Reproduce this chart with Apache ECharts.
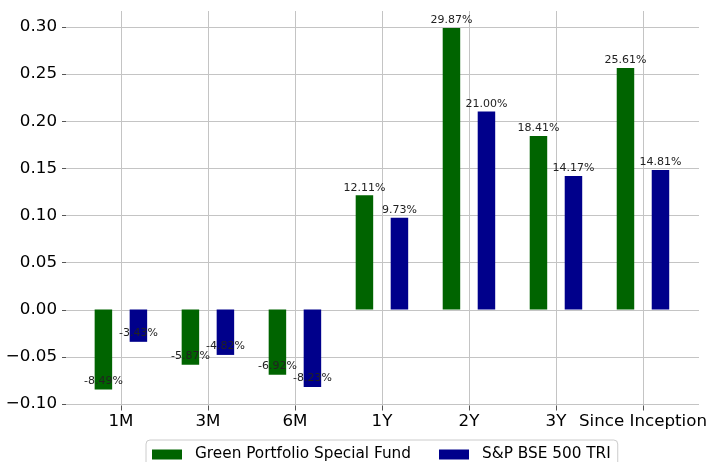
<!DOCTYPE html>
<html>
<head>
<meta charset="utf-8">
<script src="https://cdn.jsdelivr.net/npm/echarts@6/dist/echarts.min.js"></script>
<style>html,body{margin:0;padding:0;background:#fff}#c{width:710px;height:462px}</style>
</head>
<body>
<div id="c"></div>
<script>
const categories = ['1M', '3M', '6M', '1Y', '2Y', '3Y', 'Since Inception'];
const fundValues = [-0.0849, -0.0587, -0.0692, 0.1211, 0.2987, 0.1841, 0.2561];
const benchValues = [-0.0343, -0.0482, -0.0823, 0.0973, 0.2100, 0.1417, 0.1481];
const seriesNames = ['Green Portfolio Special Fund', 'S&P BSE 500 TRI'];
const seriesColors = ['#006400', '#00008b'];

const FONT = 'DejaVu Sans';
const chart = echarts.init(document.getElementById('c'), null, {renderer: 'canvas'});

function toData(vals) {
  return vals.map((v, i) => ({
    value: [i, v],
    label: {
      position: v >= 0 ? 'top' : 'insideBottom',
      distance: v >= 0 ? 2 : 3
    }
  }));
}
function barSeries(name, vals, color) {
  return {
    name: name,
    type: 'bar',
    xAxisIndex: 1,
    yAxisIndex: 1,
    clip: false,
    barWidth: 17.5,
    barGap: '100%',
    itemStyle: {color: color},
    label: {
      show: true,
      fontFamily: FONT,
      fontSize: 11,
      color: '#222',
      formatter: p => (p.value[1] * 100).toFixed(2) + '%'
    },
    data: toData(vals)
  };
}

chart.setOption({
  animation: false,
  backgroundColor: '#fff',
  grid: [
    {left: 66, right: 11, top: 27, bottom: 58},
    {left: 120.9, right: 66, top: 11, bottom: 56.5}
  ],
  xAxis: [
    {gridIndex: 0, type: 'value', min: 0, max: 1, show: false},
    {
      gridIndex: 1, type: 'value', min: 0, max: 6, interval: 1,
      axisLine: {show: false, onZero: false},
      axisTick: {show: true, length: 5, lineStyle: {color: '#555'}},
      axisLabel: {
        margin: 8, fontFamily: FONT, fontSize: 16.7, color: '#000',
        formatter: v => categories[v] || ''
      },
      splitLine: {show: true, lineStyle: {color: '#c4c4c4', width: 1}}
    }
  ],
  yAxis: [
    {
      gridIndex: 0, type: 'value', min: -0.1, max: 0.3, interval: 0.05,
      axisLine: {show: false},
      axisTick: {show: true, length: 4, lineStyle: {color: '#555'}},
      axisLabel: {
        margin: 9, fontFamily: FONT, fontSize: 16.7, color: '#000',
        formatter: v => v.toFixed(2).replace('-', '\u2212')
      },
      splitLine: {show: true, lineStyle: {color: '#c4c4c4', width: 1}}
    },
    {
      gridIndex: 1, type: 'value', min: -0.10186, max: 0.3167, show: false,
      splitLine: {show: false}
    }
  ],
  legend: {
    left: 146, top: 440,
    padding: [7, 7, 12, 6],
    itemWidth: 30, itemHeight: 10, itemGap: 28,
    icon: 'rect',
    borderColor: '#cccccc', borderWidth: 1, borderRadius: 4,
    backgroundColor: '#fff',
    textStyle: {fontFamily: FONT, fontSize: 15.3, color: '#000', padding: [0, 0, 0, 8]},
    data: seriesNames
  },
  series: [
    barSeries(seriesNames[0], fundValues, seriesColors[0]),
    barSeries(seriesNames[1], benchValues, seriesColors[1])
  ]
});
</script>
</body>
</html>
